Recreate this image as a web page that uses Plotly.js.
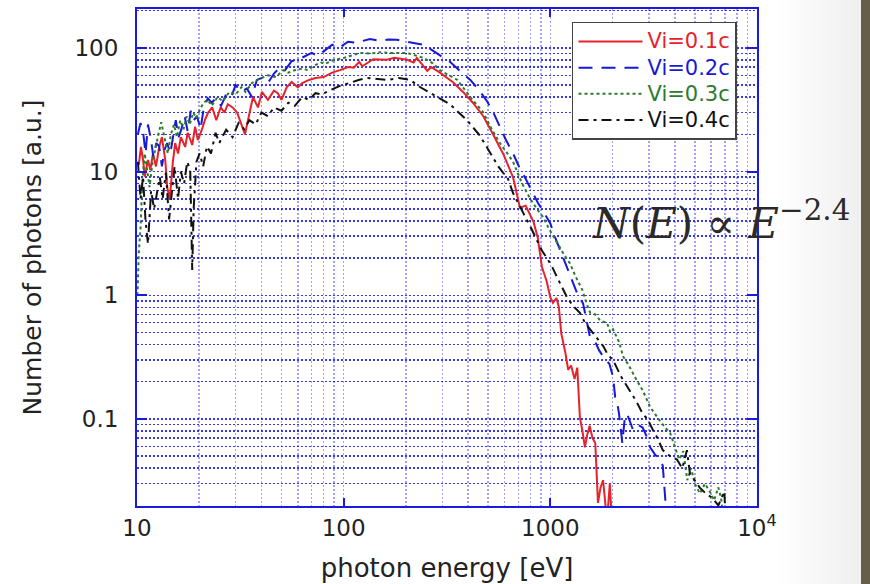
<!DOCTYPE html>
<html>
<head>
<meta charset="utf-8">
<script src="https://cdn.plot.ly/plotly-3.0.1.min.js"></script>
<style>
  html, body { margin: 0; padding: 0; }
  body {
    width: 870px; height: 584px; overflow: hidden;
    background: linear-gradient(90deg, #ffffff 0px, #ffffff 775px, #efefef 861px, #675e49 861px, #675e49 870px);
  }
  #chart { width: 870px; height: 584px; }
</style>
</head>
<body>
<div id="chart"></div>
<script>
// ---- data ----
const seriesNames = ["Vi=0.1c", "Vi=0.2c", "Vi=0.3c", "Vi=0.4c"];

const energy01 = [10.2, 10.45, 10.7, 10.9, 11.3, 11.6, 11.95, 12.35, 12.8, 13.2,
  13.7, 14.0, 14.4, 14.9, 15.3, 15.8, 16.3, 17.1, 17.6, 18.5,
  19.1, 19.7, 20.6, 21.3, 22.1, 23.1, 24.2, 25.4, 26.5, 27.5,
  29, 30.5, 33.3, 36.4, 38.5, 40.2, 43, 46, 48, 50,
  53, 56, 60, 63, 68, 73, 80, 88, 96, 105,
  112, 119, 123, 139, 162, 176, 203, 218, 226, 254,
  265, 292, 337, 378, 422, 474, 528, 590, 660, 713,
  760, 794, 830, 870, 910, 960, 1000, 1030, 1070, 1100,
  1130, 1180, 1220, 1260, 1310, 1350, 1390, 1430, 1470, 1510,
  1550, 1600, 1650, 1700, 1750, 1800, 1840, 1880, 1940, 2000];
const photons01 = [11.3, 15.8, 12.4, 9.1, 12.4, 10.3, 14, 11, 15.8, 19,
  12.4, 7.5, 5.9, 11.8, 17, 14, 19, 15.8, 20.6, 16.4,
  23, 18, 21.8, 26, 30, 33, 26, 33, 30, 35,
  33, 30, 20, 40, 33, 44, 38, 45, 43, 38,
  48, 53, 48, 52, 55, 57, 58, 63, 66, 70,
  69, 77, 71, 81, 80, 83, 80, 76, 83, 65,
  70, 63, 53, 44, 36, 28, 20, 14, 9, 5.1,
  5.3, 4.6, 3.9, 2.9, 1.7, 1.3, 0.96, 0.87, 0.95, 0.8,
  0.49, 0.35, 0.25, 0.27, 0.21, 0.26, 0.103, 0.08, 0.059, 0.075,
  0.088, 0.07, 0.064, 0.021, 0.028, 0.032, 0.022, 0.015, 0.03, 0.012];

const energy02 = [10.1, 10.4, 10.7, 11.0, 11.3, 11.7, 12.0, 12.4, 12.8, 13.2,
  13.6, 14.0, 14.5, 15.0, 15.4, 15.9, 16.4, 17.0, 17.6, 18.2,
  18.8, 19.5, 20.3, 21, 22, 23, 24, 25.5, 27, 28.5,
  30, 32, 34, 36, 38, 40, 43, 46, 49, 52,
  56, 60, 65, 70, 75, 82, 88, 95, 105, 115,
  125, 134, 150, 165, 181, 200, 220, 243, 270, 300,
  327, 365, 410, 450, 494, 530, 570, 610, 660, 705,
  755, 810, 870, 935, 1000, 1050, 1120, 1200, 1290, 1360,
  1440, 1500, 1555, 1650, 1720, 1800, 1850, 1930, 2010, 2060,
  2100, 2150, 2230, 2290, 2350, 2430, 2510, 2650, 2800, 2950,
  3040, 3200, 3370, 3500, 3580, 3700];
const photons02 = [20, 24.7, 21, 14, 24, 18, 13, 17, 16, 11,
  15, 17, 14, 20, 26, 19, 22, 28, 21, 31,
  26, 28, 22, 32, 39, 36, 39, 34, 42, 39.5,
  50, 44, 47, 40, 55, 57, 52, 62, 69, 66,
  78, 80, 85, 91, 86, 97, 106, 100, 112, 110,
  115, 118, 114, 117, 116, 113, 110, 106, 95, 85,
  77, 65, 55, 46, 37, 30, 23, 18, 14, 11,
  8.9, 7, 5.6, 4.6, 3.8, 3.0, 2.3, 1.7, 1.25, 1.0,
  0.86, 0.6, 0.46, 0.42, 0.36, 0.32, 0.3, 0.28, 0.22, 0.15,
  0.14, 0.11, 0.064, 0.1, 0.11, 0.095, 0.082, 0.09, 0.085, 0.07,
  0.059, 0.052, 0.047, 0.042, 0.023, 0.012];

const energy03 = [10.05, 10.2, 10.4, 10.6, 10.9, 11.2, 11.5, 11.9, 12.3, 12.7,
  13.1, 13.6, 14.1, 14.6, 15.1, 15.6, 16.2, 16.8, 17.4, 18,
  18.7, 19.4, 20.2, 21, 22, 23, 24.5, 26, 28, 30,
  32, 33.5, 36, 39, 43, 47, 51, 54, 58, 63,
  67, 72, 78, 81, 90, 98, 108, 120, 135, 150,
  170, 203, 243, 270, 292, 325, 355, 410, 474, 520,
  570, 620, 660, 730, 800, 860, 920, 1000, 1050, 1110,
  1170, 1240, 1330, 1430, 1500, 1560, 1650, 1750, 1880, 1950,
  2010, 2150, 2250, 2400, 2600, 2800, 3040, 3200, 3370, 3600,
  3800, 4000, 4200, 4400, 4600, 4800, 5000, 5300, 5600, 5900,
  6200, 6500, 6700, 7000];
const photons03 = [1.0, 2.2, 3.5, 8, 14, 10, 7.5, 12, 16, 20,
  25, 18, 14, 20, 24, 19, 26, 22, 28, 24,
  30, 27, 32, 36, 38, 34, 40, 37, 44, 42,
  48, 44, 52, 56, 60, 58, 66, 63, 66, 68,
  66, 72, 76, 74, 80, 82, 86, 91, 90, 92,
  91, 91, 83, 75, 66, 60, 55, 40, 30, 22,
  17, 14, 12, 8, 6, 5, 4.3, 3.3, 2.9, 2.45,
  2.1, 1.83, 1.4, 1.1, 0.85, 0.72, 0.7, 0.62, 0.6, 0.5,
  0.53, 0.42, 0.32, 0.27, 0.21, 0.17, 0.125, 0.11, 0.098, 0.085,
  0.077, 0.06, 0.047, 0.055, 0.032, 0.04, 0.03, 0.025, 0.03, 0.026,
  0.022, 0.028, 0.023, 0.012];

const energy04 = [10.1, 10.4, 10.7, 11.0, 11.3, 11.7, 12.1, 12.5, 12.9, 13.3,
  13.8, 14.3, 14.8, 15.2, 15.8, 16.3, 16.9, 17.5, 18.1, 18.5,
  18.8, 19.4, 20.1, 20.9, 21.8, 22.8, 24, 25, 27, 29,
  31, 33, 35, 37.5, 40, 43, 46, 50, 54, 58,
  63, 68, 73, 78, 85, 92, 98, 107, 118, 130,
  145, 162, 185, 210, 235, 270, 300, 327, 360, 395,
  425, 455, 490, 527, 560, 590, 620, 660, 700, 736,
  800, 861, 910, 962, 1020, 1078, 1140, 1205, 1290, 1390,
  1470, 1555, 1670, 1800, 1900, 2010, 2200, 2420, 2600, 2800,
  2950, 3130, 3300, 3500, 3800, 4100, 4350, 4580, 4740, 5000,
  5270, 5650, 6080, 6500, 6950, 7100];
const photons04 = [12, 6, 9, 4, 2.6, 7, 5, 6.7, 9, 6,
  9.8, 4.1, 7, 11, 6, 10, 8, 12, 10.3, 1.6,
  5, 12, 14, 11, 16, 14, 20.6, 17, 21.8, 19,
  24.7, 22, 26, 24, 30, 28, 33, 31, 36, 34,
  40, 38, 43, 42, 45, 48, 50, 52, 55, 57,
  56, 55, 57, 55, 48, 42, 38, 35, 30, 26,
  22.5, 19.6, 16, 13, 11, 9.8, 9, 6.7, 5.6, 4.7,
  3.6, 2.8, 2.3, 2.0, 1.7, 1.4, 1.15, 0.96, 0.82, 0.72,
  0.6, 0.53, 0.45, 0.39, 0.33, 0.3, 0.22, 0.17, 0.14, 0.11,
  0.1, 0.082, 0.07, 0.056, 0.05, 0.047, 0.04, 0.056, 0.036, 0.032,
  0.028, 0.025, 0.023, 0.02, 0.026, 0.012];

const xTickVals = [10, 100, 1000, 10000];
const xTickText = ["10", "100", "1000", "10<sup>4</sup>"];
const yTickVals = [0.1, 1, 10, 100];
const yTickText = ["0.1", "1", "10", "100"];

// ---- styling ----
const colors = ["#e6222a", "#1818d8", "#2c7a2c", "#111111"];
const dashes = ["solid", "14px,9px", "3px,3px", "10px,5px,3px,5px"];
const energies = [energy01, energy02, energy03, energy04];
const photons = [photons01, photons02, photons03, photons04];

function minorVals(lo, hi) {
  const out = [];
  for (let d = lo; d < hi; d++) {
    for (let m = 2; m <= 9; m++) out.push(m * Math.pow(10, d));
  }
  return out;
}

const traces = seriesNames.map((nm, i) => ({
  type: "scatter",
  mode: "lines",
  x: energies[i],
  y: photons[i],
  name: '<span style="color:' + colors[i] + ';font-size:21px">' + nm + '</span>',
  line: { color: colors[i], width: 2, dash: dashes[i] },
  cliponaxis: true
}));

const fontFam = "DejaVu Sans, sans-serif";
const blue = "#1a1ae0";

const layout = {
  width: 870, height: 584,
  margin: { l: 137, r: 113, t: 9, b: 78 },
  paper_bgcolor: "rgba(0,0,0,0)",
  plot_bgcolor: "#ffffff",
  font: { family: fontFam, size: 23, color: "#222" },
  showlegend: true,
  legend: {
    x: 0.7016, y: 0.974, xanchor: "left", yanchor: "top",
    bgcolor: "#ffffff", bordercolor: "#444", borderwidth: 1.5,
    font: { family: fontFam, size: 17.8, color: "#222" },
    itemwidth: 64,
    tracegroupgap: 0
  },
  xaxis: {
    type: "log", range: [1, 4],
    tickmode: "array", tickvals: xTickVals, ticktext: xTickText,
    ticks: "inside", ticklen: 8, tickwidth: 2, tickcolor: blue,
    showline: true, linecolor: blue, linewidth: 2, mirror: "ticks",
    showgrid: true, gridcolor: "rgba(70,70,235,0.5)", gridwidth: 1.5, griddash: "2px,2px",
    minor: { tickmode: "array", tickvals: minorVals(1, 4), showgrid: true,
             gridcolor: "rgba(70,70,235,0.5)", gridwidth: 1.5, griddash: "2px,2px", ticks: "" },
    zeroline: false,
    tickfont: { size: 23, color: "#222" },
    title: { text: "photon energy [eV]", font: { size: 26, color: "#222" }, standoff: 19 }
  },
  yaxis: {
    type: "log", range: [Math.log10(0.0198), Math.log10(206)],
    tickmode: "array", tickvals: yTickVals, ticktext: yTickText,
    ticks: "inside", ticklen: 10, tickwidth: 2, tickcolor: blue,
    showline: true, linecolor: blue, linewidth: 2, mirror: "ticks",
    showgrid: true, gridcolor: "rgba(20,20,225,0.85)", gridwidth: 1.5, griddash: "2px,2px",
    minor: { tickmode: "array", tickvals: minorVals(-2, 3), showgrid: true,
             gridcolor: "rgba(20,20,225,0.85)", gridwidth: 1.5, griddash: "2px,2px", ticks: "" },
    zeroline: false,
    ticklabelstandoff: 12,
    tickfont: { size: 23, color: "#222" },
    title: { text: "Number of photons [a.u.]", font: { size: 25, color: "#222" }, standoff: 26 }
  },
  annotations: [{
    xref: "paper", yref: "paper",
    x: 0.7306, y: 0.575, xanchor: "left", yanchor: "middle",
    showarrow: false,
    text: "<i>N</i>(<i>E</i>) ∝ <i>E</i><sup>−2.4</sup>",
    font: { family: "DejaVu Serif, Liberation Serif, serif", size: 42, color: "#2a2a2a" }
  }]
};

Plotly.newPlot("chart", traces, layout, { displayModeBar: false, staticPlot: true });
</script>
</body>
</html>
